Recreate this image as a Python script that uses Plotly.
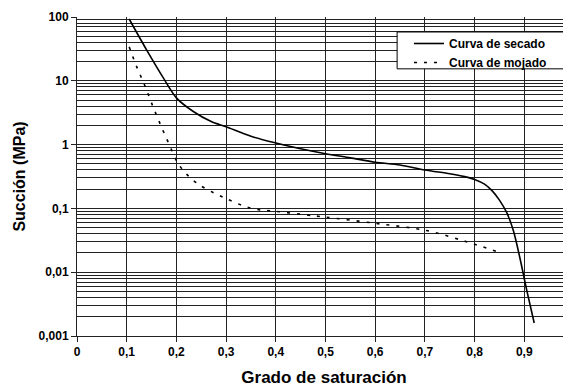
import plotly.graph_objects as go

# Data
x_secado = [0.105, 0.14, 0.174, 0.2, 0.234, 0.27, 0.3, 0.35, 0.4, 0.45, 0.5, 0.55, 0.6,
            0.65, 0.7, 0.75, 0.78, 0.8, 0.82, 0.835, 0.85, 0.865, 0.878, 0.891, 0.905, 0.92]
y_secado = [93, 30.5, 11, 5.4, 3.3, 2.3, 1.9, 1.35, 1.06, 0.86, 0.72, 0.62, 0.53,
            0.48, 0.40, 0.35, 0.315, 0.285, 0.24, 0.19, 0.135, 0.085, 0.045, 0.017, 0.0052, 0.0016]

x_mojado = [0.105, 0.12, 0.137, 0.152, 0.168, 0.184, 0.207, 0.241, 0.294, 0.351, 0.4,
            0.462, 0.5, 0.603, 0.703, 0.784, 0.845]
y_mojado = [34, 16.7, 8.2, 4.1, 2.05, 1.07, 0.46, 0.25, 0.15, 0.1, 0.09,
            0.079, 0.073, 0.058, 0.045, 0.030, 0.021]

x_tickvals = [0, 0.1, 0.2, 0.3, 0.4, 0.5, 0.6, 0.7, 0.8, 0.9]
x_ticktext = ["0", "0,1", "0,2", "0,3", "0,4", "0,5", "0,6", "0,7", "0,8", "0,9"]
y_tickvals = [0.001, 0.01, 0.1, 1, 10, 100]
y_ticktext = ["0,001", "0,01", "0,1", "1", "10", "100"]
y_minor = [k * 10 ** e for e in range(-3, 2) for k in range(2, 10)]

FONT = "Liberation Sans, Arial, sans-serif"
GRID = "#222222"

fig = go.Figure()
fig.add_trace(go.Scatter(x=x_secado, y=y_secado, mode="lines", name="Curva de secado",
                         line=dict(color="black", width=1.6, shape="spline", smoothing=0.8)))
fig.add_trace(go.Scatter(x=x_mojado, y=y_mojado, mode="lines", name="Curva de mojado",
                         line=dict(color="black", width=1.6, dash="3px,7px", shape="spline")))

# the page body has an 8px margin, so the figure is sized to fit the window
fig.update_layout(
    width=563, height=382,
    margin=dict(l=69, r=0, t=9, b=54),
    paper_bgcolor="white", plot_bgcolor="white",
    font=dict(family=FONT, size=12, color="black", weight="bold"),
    showlegend=True,
    legend=dict(x=0.672, xanchor="left", y=0.9624, yanchor="top",
                bgcolor="rgba(0,0,0,0)", borderwidth=0,
                font=dict(size=12, weight="bold"), tracegroupgap=0,
                itemwidth=30),
    xaxis=dict(range=[0, 0.994], tickvals=x_tickvals, ticktext=x_ticktext,
               showgrid=True, gridcolor=GRID, gridwidth=1,
               ticks="outside", ticklen=5, tickcolor=GRID,
               showline=True, linecolor=GRID, linewidth=1, zeroline=False,
               tickfont=dict(size=12, weight="bold"), automargin=False,
               title=dict(text="Grado de saturación", font=dict(size=17, weight="bold"),
                          standoff=12)),
    yaxis=dict(type="log", range=[-3, 2], tickvals=y_tickvals, ticktext=y_ticktext,
               showgrid=True, gridcolor=GRID, gridwidth=1,
               ticks="outside", ticklen=5, tickcolor=GRID,
               showline=True, linecolor=GRID, linewidth=1, zeroline=False,
               tickfont=dict(size=12, weight="bold"), automargin=False,
               minor=dict(tickvals=y_minor, showgrid=True, gridcolor=GRID, gridwidth=1,
                          ticks=""),
               title=dict(text="Succión (MPa)", font=dict(size=16, weight="bold"),
                          standoff=8)),
)

# legend frame (white box with black border)
fig.add_shape(type="rect", xref="paper", yref="paper",
              x0=0.648, x1=0.994, y0=0.8375, y1=0.953,
              fillcolor="white", line=dict(color="black", width=1), layer="above")

# partially visible "1" tick label at the right edge
fig.add_annotation(x=1.006, xref="paper", y=-0.045, yref="paper", text="1", showarrow=False,
                   yanchor="top", xanchor="center", font=dict(size=12, weight="bold"))

fig.write_html("out.html")
